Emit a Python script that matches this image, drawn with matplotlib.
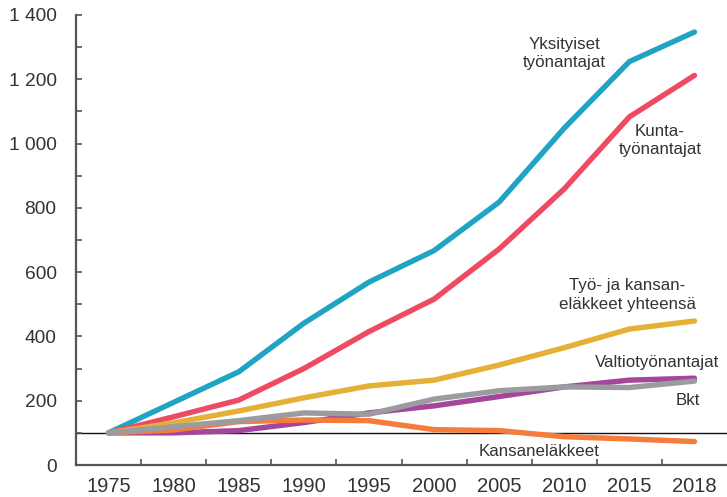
import matplotlib
matplotlib.use("Agg")
import matplotlib.pyplot as plt
from matplotlib.ticker import FuncFormatter, MultipleLocator

plt.rcParams["font.family"] = ["Liberation Sans Narrow", "Liberation Sans", "DejaVu Sans"]

years = ["1975", "1980", "1985", "1990", "1995", "2000", "2005", "2010", "2015", "2018"]

yksityiset = [100, 195, 290, 441, 569, 667, 818, 1048, 1255, 1347]
kunta = [100, 150, 202, 300, 415, 516, 672, 859, 1083, 1212]
yhteensa = [100, 131, 168, 209, 246, 264, 311, 365, 423, 448]
valtio = [100, 100, 107, 132, 162, 184, 213, 243, 264, 270]
bkt = [100, 119, 138, 162, 158, 205, 231, 243, 241, 261]
kansan = [100, 109, 135, 140, 138, 110, 107, 88, 81, 73]

series = [
    (yksityiset, "#20A4C3"),
    (kunta, "#EE4A62"),
    (yhteensa, "#E4B037"),
    (valtio, "#A4469B"),
    (kansan, "#F47C3C"),
    (bkt, "#9B9C9F"),
]

labels = [
    ("Yksityiset\ntyönantajat", 7.0, 1280),
    ("Kunta-\ntyönantajat", 8.47, 1010),
    ("Työ- ja kansan-\neläkkeet yhteensä", 7.97, 528),
    ("Valtiotyönantajat", 8.43, 318),
    ("Bkt", 8.9, 202),
    ("Kansaneläkkeet", 6.61, 42),
]

TEXT = "#333333"
SPINE = "#555555"

fig = plt.figure(figsize=(7.27, 4.97), dpi=100)
ax = fig.add_axes([76 / 727, 1 - 465 / 497, 1 - 76 / 727, 450 / 497])

x = list(range(len(years)))
ax.axhline(100, color="#111111", linewidth=1.0, zorder=1)
for values, color in series:
    ax.plot(x, values, color=color, linewidth=3.9, solid_capstyle="round",
            solid_joinstyle="round", zorder=2)

for text, tx, ty in labels:
    ax.text(tx, ty, text, ha="center", va="center", fontsize=12.2, color=TEXT,
            linespacing=1.3)

ax.set_xlim(-0.5, len(years) - 0.5)
ax.set_ylim(0, 1400)
ax.set_xticks(x)
ax.set_xticklabels(years)
ax.set_xticks([i + 0.5 for i in range(len(years) - 1)], minor=True)
ax.tick_params(axis="x", which="major", length=0, pad=9, labelsize=14.5, labelcolor=TEXT)
ax.tick_params(axis="x", which="minor", direction="in", length=4, width=1.2, color=SPINE)

ax.yaxis.set_major_locator(MultipleLocator(200))
ax.yaxis.set_minor_locator(MultipleLocator(100))
ax.yaxis.set_major_formatter(FuncFormatter(lambda v, p: f"{int(v):,}".replace(",", " ")))
ax.tick_params(axis="y", which="both", direction="in", length=4, width=1.2, color=SPINE,
               labelsize=13.8, labelcolor=TEXT, pad=14)

for side in ("top", "right"):
    ax.spines[side].set_visible(False)
for side in ("left", "bottom"):
    ax.spines[side].set_color(SPINE)
    ax.spines[side].set_linewidth(1.6)

fig.savefig("out.png", dpi=100)
